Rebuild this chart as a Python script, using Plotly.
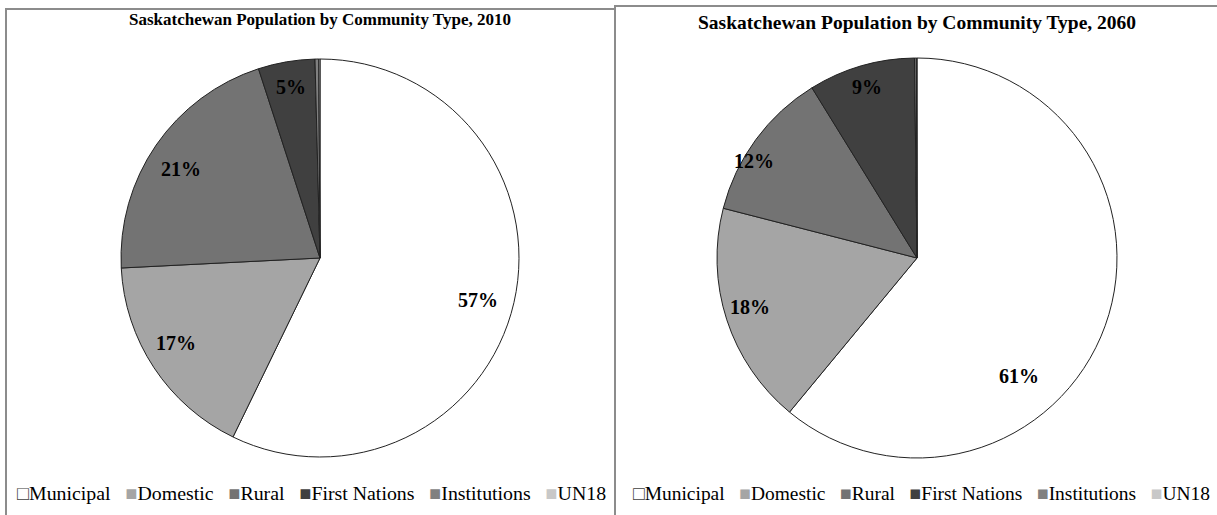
import math
import plotly.graph_objects as go

categories = ["Municipal", "Domestic", "Rural", "First Nations", "Institutions", "UN18"]
values_2010 = [57.2, 17.0, 20.8, 4.6, 0.3, 0.1]
values_2060 = [61.0, 18.0, 12.2, 8.6, 0.15, 0.05]
colors = ["#FFFFFF", "#A5A5A5", "#737373", "#404040", "#808080", "#C8C8C8"]
title_2010 = "Saskatchewan Population by Community Type, 2010"
title_2060 = "Saskatchewan Population by Community Type, 2060"

W, H = 1217, 515
SERIF = "Liberation Serif, Times New Roman, serif"


def px_x(v):
    return v / W


def px_y(v):
    return 1 - v / H


fig = go.Figure()

# pie geometry in pixels (centre x, centre y, radius) and label placement style
pies = [
    dict(vals=values_2010, title=title_2010, cx=320, cy=258, r=199, ty=19, tsize=17, lx=311, lsize=19.85,
         k=[0.82, 0.84, 0.83, 0.87], d=[2, 3, -2, 0]),
    dict(vals=values_2060, title=title_2060, cx=917, cy=258, r=200, ty=22, tsize=19.5, lx=921, lsize=19.45,
         k=[0.78, 0.87, 0.95, 0.89], d=[29.6, 1.6, -5.5, 0]),
]

for p in pies:
    fig.add_trace(go.Pie(
        labels=categories, values=p["vals"], sort=False, direction="clockwise", rotation=0,
        marker=dict(colors=colors, line=dict(color="#222222", width=1)),
        textinfo="none", hoverinfo="label+percent", showlegend=False,
        domain=dict(x=[px_x(p["cx"] - p["r"]), px_x(p["cx"] + p["r"])],
                    y=[px_y(p["cy"] + p["r"]), px_y(p["cy"] - p["r"])]),
    ))
    # percentage labels, placed along each slice's mid-angle
    total = sum(p["vals"])
    cum = 0.0
    for i, v in enumerate(p["vals"]):
        frac = v / total
        mid = (cum + frac / 2) * 360
        cum += frac
        if frac < 0.02:
            continue
        ang = math.radians(mid + p["d"][i])
        rr = p["k"][i] * p["r"]
        x = p["cx"] + rr * math.sin(ang)
        y = p["cy"] - rr * math.cos(ang)
        fig.add_annotation(text="<b>%d%%</b>" % round(frac * 100), x=px_x(x), y=px_y(y),
                           xref="paper", yref="paper", showarrow=False,
                           xanchor="center", yanchor="middle",
                           font=dict(family=SERIF, size=20, color="black"))
    # title
    fig.add_annotation(text="<b>%s</b>" % p["title"], x=px_x(p["cx"]), y=px_y(p["ty"]),
                       xref="paper", yref="paper", showarrow=False, xanchor="center", yanchor="middle",
                       font=dict(family=SERIF, size=p["tsize"], color="black"))
    # legend row
    parts = []
    for name, col in zip(categories, colors):
        if col.upper() == "#FFFFFF":
            sym = '<span style="color:#404040">\u25A1</span>'
        else:
            sym = '<span style="color:%s">\u25A0</span>' % col
        parts.append(sym + name)
    fig.add_annotation(text="\u00a0\u00a0\u00a0".join(parts), x=px_x(p["lx"]), y=px_y(493),
                       xref="paper", yref="paper", showarrow=False, xanchor="center", yanchor="middle",
                       font=dict(family=SERIF, size=p["lsize"], color="black"))

frame = dict(type="rect", xref="paper", yref="paper", line=dict(color="#8C8C8C", width=2),
             fillcolor="rgba(0,0,0,0)", layer="below")
fig.add_shape(**frame, x0=px_x(6), x1=px_x(615), y0=px_y(520), y1=px_y(9))
fig.add_shape(**frame, x0=px_x(615), x1=px_x(1225), y0=px_y(520), y1=px_y(6))

fig.update_layout(
    width=W, height=H, margin=dict(l=0, r=0, t=0, b=0),
    paper_bgcolor="white", plot_bgcolor="white", showlegend=False,
)

fig.write_html("out.html", config={"displayModeBar": False},
               post_script="document.body.style.margin='0';document.body.style.overflow='hidden';")
